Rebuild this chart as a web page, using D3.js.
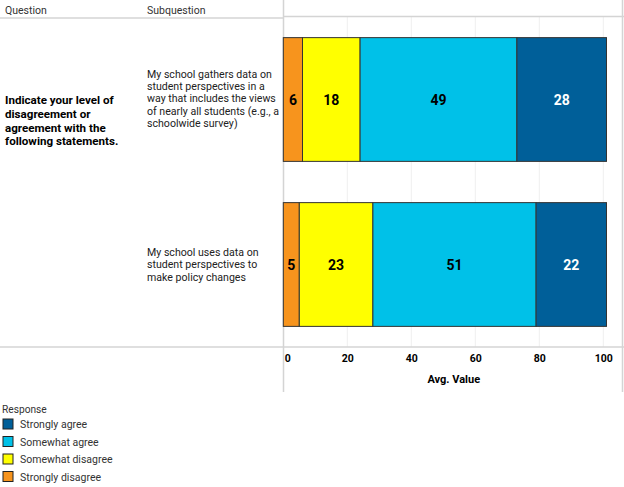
<!DOCTYPE html>
<html>
<head>
<meta charset="utf-8">
<script src="https://cdn.jsdelivr.net/npm/d3@7"></script>
<style>
  body { margin: 0; background: #fff; }
  text { font-family: Roboto, "Noto Sans", sans-serif; }
</style>
</head>
<body>
<svg id="chart"></svg>
<script>
// data
let responses     = ['Strongly disagree', 'Somewhat disagree', 'Somewhat agree', 'Strongly agree'],
    colors        = ['#f7941d', '#ffff00', '#00c1e8', '#005f99'],
    subquestions  = [
      ['My school gathers data on', 'student perspectives in a', 'way that includes the views', 'of nearly all students (e.g., a', 'schoolwide survey)'],
      ['My school uses data on', 'student perspectives to', 'make policy changes']
    ],
    question      = ['Indicate your level of', 'disagreement or', 'agreement with the', 'following statements.'],
    gathersValues = [6, 18, 49, 28],
    usesValues    = [5, 23, 51, 22],
    ticks         = [0, 20, 40, 60, 80, 100];

let width  = 624,
    height = 487,
    svg    = d3.select('#chart').attr('width', width).attr('height', height),
    rows   = [gathersValues, usesValues],

    xScale = d3.scaleLinear()
                .domain([0, 100])
                .range([283.3, 603.3]),

    yScale = d3.scaleBand()
                .domain(d3.range(rows.length))
                .range([17, 347])
                .paddingInner(0.25)
                .paddingOuter(0.125),

    color  = d3.scaleOrdinal().domain(responses).range(colors);

// gridlines
svg.append('g')
    .selectAll('line')
    .data(ticks.slice(1))
    .enter()
    .append('line')
    .attr('x1', d => xScale(d)).attr('x2', d => xScale(d))
    .attr('y1', 17).attr('y2', 347)
    .attr('stroke', '#efefef');

// table lines
let frame = svg.append('g').attr('stroke', '#d4d4d4').attr('stroke-width', 1.5);
frame.append('line').attr('x1', 0).attr('x2', 284).attr('y1', 18).attr('y2', 18);
frame.append('line').attr('x1', 284).attr('x2', width).attr('y1', 16.5).attr('y2', 16.5);
frame.append('line').attr('x1', 0).attr('x2', width).attr('y1', 347).attr('y2', 347);
frame.append('line').attr('x1', 283.5).attr('x2', 283.5).attr('y1', 0).attr('y2', 392);
frame.append('line').attr('x1', 622.5).attr('x2', 622.5).attr('y1', 0).attr('y2', 392);

// header
svg.append('text').attr('x', 5).attr('y', 14).attr('font-size', 10.5).attr('fill', '#333').text('Question');
svg.append('text').attr('x', 147).attr('y', 14).attr('font-size', 10.5).attr('fill', '#333').text('Subquestion');

// question label
svg.append('text')
    .attr('font-size', 11.6).attr('font-weight', 'bold').attr('fill', '#000')
    .selectAll('tspan')
    .data(question)
    .enter()
    .append('tspan')
    .attr('x', 5)
    .attr('y', (d, i) => 104.2 + i * 13.7)
    .text(d => d);

// subquestion labels
subquestions.forEach((lines, r) => {
    let cy = yScale(r) + yScale.bandwidth() / 2 - 12.4 * (lines.length - 1) / 2;
    if (r == 0) cy -= 1;
    svg.append('text')
        .attr('font-size', 10.6).attr('fill', '#222')
        .selectAll('tspan')
        .data(lines)
        .enter()
        .append('tspan')
        .attr('x', 147)
        .attr('y', (d, i) => cy + 3.8 + i * 12.4)
        .text(d => d);
});

// stacked bars
let stacked = rows.map(vals => {
    let x0 = 0;
    return vals.map((v, i) => {
        let seg = {key: responses[i], value: v, x0: x0, x1: x0 + v};
        x0 += v;
        return seg;
    });
});

let rowG = svg.selectAll('.row')
    .data(stacked)
    .enter()
    .append('g')
    .classed('row', true)
    .attr('transform', (d, i) => `translate(0, ${yScale(i)})`);

rowG.selectAll('rect')
    .data(d => d)
    .enter()
    .append('rect')
    .attr('x', d => xScale(d.x0))
    .attr('width', d => xScale(d.x1) - xScale(d.x0))
    .attr('y', 0)
    .attr('height', yScale.bandwidth())
    .attr('fill', d => color(d.key))
    .attr('stroke', '#333')
    .attr('stroke-width', 1);

rowG.selectAll('.val')
    .data(d => d)
    .enter()
    .append('text')
    .classed('val', true)
    .attr('x', d => (xScale(d.x0) + xScale(d.x1)) / 2)
    .attr('y', yScale.bandwidth() / 2)
    .attr('dy', '0.36em')
    .attr('text-anchor', 'middle')
    .attr('font-size', 14)
    .attr('font-weight', 'bold')
    .attr('fill', d => d.key == 'Strongly agree' ? '#fff' : '#000')
    .text(d => d.value);

// x axis
let axis = svg.append('g')
    .attr('transform', 'translate(0, 347)')
    .call(d3.axisBottom(xScale).tickValues(ticks).tickSize(0).tickPadding(8));
axis.select('.domain').remove();
axis.selectAll('text')
    .attr('font-size', 10.5)
    .attr('font-weight', 'bold')
    .attr('fill', '#000')
    .attr('font-family', 'Roboto, sans-serif');
axis.selectAll('.tick').filter(d => d == 0).select('text')
    .attr('text-anchor', 'start')
    .attr('dx', 1);

svg.append('text')
    .attr('x', (283.5 + width) / 2)
    .attr('y', 383.3)
    .attr('text-anchor', 'middle')
    .attr('font-size', 11)
    .attr('font-weight', 'bold')
    .text('Avg. Value');

// legend
svg.append('text').attr('x', 2).attr('y', 412.5).attr('font-size', 10.2).attr('fill', '#333').text('Response');

let legend = svg.selectAll('.legend')
    .data(responses.slice().reverse())
    .enter()
    .append('g')
    .classed('legend', true)
    .attr('transform', (d, i) => `translate(3, ${419 + i * 17.5})`);

legend.append('rect')
    .attr('width', 10).attr('height', 10)
    .attr('fill', d => color(d))
    .attr('stroke', '#222');

legend.append('text')
    .attr('x', 17).attr('y', 9.2)
    .attr('font-size', 10.5)
    .attr('fill', '#333')
    .text(d => d);
</script>
</body>
</html>
